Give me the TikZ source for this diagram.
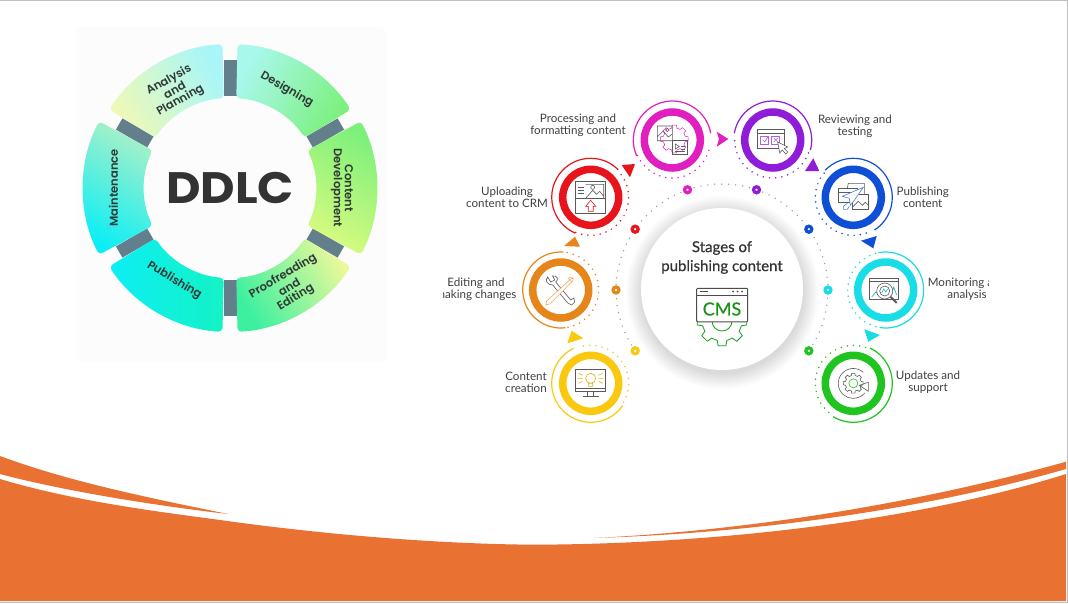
\documentclass[tikz,border=0pt]{standalone}
\usepackage{fontspec}
\usepackage{xcolor}
\usepackage{tikz}
\usetikzlibrary{arrows.meta, positioning}
\newfontfamily\ddlcfont[FakeStretch=1.08]{Poppins}
\newfontfamily\segfont{Poppins SemiBold}
\newfontfamily\stagefont{Lato}
\newfontfamily\hubfont[FakeBold=0.5]{Lato}
\definecolor{slideorange}{HTML}{E97132}
\definecolor{barslate}{HTML}{647F8C}
\definecolor{ddlcink}{HTML}{2F3A36}
\definecolor{iconink}{HTML}{5A5A5A}
\definecolor{segA}{HTML}{A8F6F8}
\definecolor{segB}{HTML}{EEF9B6}
\definecolor{segC}{HTML}{7CF07C}
\definecolor{segD}{HTML}{A8F8EC}
\definecolor{segE}{HTML}{D8FB80}
\definecolor{segF}{HTML}{EAF99A}
\definecolor{segG}{HTML}{3CF0A0}
\definecolor{segH}{HTML}{14F2C4}
\definecolor{segI}{HTML}{0CEEF5}
\definecolor{segJ}{HTML}{A8F0C8}
\definecolor{stagered}{HTML}{E8141C}
\definecolor{stagemagenta}{HTML}{E01FBE}
\definecolor{stagepurple}{HTML}{8E1CD8}
\definecolor{stageblue}{HTML}{0F4FD8}
\definecolor{stagecyan}{HTML}{18DDE6}
\definecolor{stagegreen}{HTML}{1FC41F}
\definecolor{stageorange}{HTML}{E6861A}
\definecolor{stageyellow}{HTML}{FAC80F}
\definecolor{hubshade}{HTML}{DADADA}
\definecolor{hubdots}{HTML}{8A9AA6}
\pgfdeclareradialshading{hubglow}{\pgfpointorigin}{color(0bp)=(hubshade); color(20.8bp)=(hubshade); color(25bp)=(white); color(50bp)=(white)}

\begin{document}
\begin{tikzpicture}[x=1pt, y=-1pt,
      segment/.style={rounded corners=4pt},
      bar/.style={draw=none, fill=barslate, minimum width=36pt, minimum height=13pt, inner sep=0pt},
      seglabel/.style={inner sep=0pt, text=ddlcink, font=\segfont\fontsize{11.5}{12}\selectfont},
      ring/.style={draw, circle, line width=7.5pt, minimum size=56pt, inner sep=0pt},
      thinarc/.style={line width=1.2pt},
      dotarc/.style={line width=1.7pt, line cap=round, dash pattern=on 0pt off 6.2pt},
      hubdot/.style={draw, circle, fill=white, line width=3.2pt, minimum size=6pt, inner sep=0pt},
      lab/.style={align=center, inner sep=0pt, text=black!75,
                  font=\stagefont\fontsize{11.6}{12}\selectfont},
      iconline/.style={draw=iconink, line width=0.6pt},
      pics/gearicon/.style={code={
        \path[pic actions] (-14:80) \foreach \a in {0,45,...,315}{
          -- (\a-14:80) -- (\a-9:100) -- (\a+9:100) -- (\a+14:80)} -- cycle;}}
    ]
      \useasboundingbox (0,0) rectangle (1068,603);
      \fill[white] (0,0) rectangle (1068,603);

      % bottom swoosh
      \fill[slideorange] (0,479) .. controls (80,503) and (170,513) .. (231,521.5)
        .. controls (330,535) and (440,544) .. (534,544.7)
        .. controls (720,544) and (920,520) .. (1066,474) -- (1066,601) -- (0,601) -- cycle;
      \fill[slideorange] (0,456) .. controls (70,482) and (150,498) .. (228,514)
        .. controls (150,505) and (60,490) .. (0,474) -- cycle;
      \fill[slideorange] (594,538) .. controls (760,530) and (930,500) .. (1066,461.7)
        -- (1066,469) .. controls (930,508) and (760,533) .. (594,538) -- cycle;
      \draw[black!25, line width=1pt] (0,0.5) -- (1067.5,0.5) -- (1067.5,602.5) -- (0,602.5);

      % DDLC wheel
      \fill[black!1, rounded corners=6pt] (76,27) rectangle (386,362);
      \begin{scope}[shift={(230,188)}]
        \foreach \a in {-90,-30,30,90,150,210}
          \node[bar, rotate=-\a] at (\a:110) {};
        \shade[segment, top color=segA, bottom color=segB, shading angle=-60]
          (213:144) arc[start angle=213, end angle=267, radius=144]
          -- (266:90) arc[start angle=266, end angle=214, radius=90] -- cycle;
        \shade[segment, top color=segC, bottom color=segD, shading angle=-120]
          (273:144) arc[start angle=273, end angle=327, radius=144]
          -- (326:90) arc[start angle=326, end angle=274, radius=90] -- cycle;
        \shade[segment, top color=segC, bottom color=segE, shading angle=-30]
          (-27:147) arc[start angle=-27, end angle=27, radius=147]
          -- (26:86) arc[start angle=26, end angle=-26, radius=86] -- cycle;
        \shade[segment, top color=segF, bottom color=segG, shading angle=-60]
          (33:144) arc[start angle=33, end angle=87, radius=144]
          -- (86:90) arc[start angle=86, end angle=34, radius=90] -- cycle;
        \shade[segment, top color=segH, bottom color=segI, shading angle=-90]
          (93:144) arc[start angle=93, end angle=147, radius=144]
          -- (146:90) arc[start angle=146, end angle=94, radius=90] -- cycle;
        \shade[segment, top color=segJ, bottom color=segI, shading angle=-30]
          (153:147) arc[start angle=153, end angle=207, radius=147]
          -- (206:86) arc[start angle=206, end angle=154, radius=86] -- cycle;

        \node[seglabel, rotate=29.5] (seganalysis) at (240.5:124) {Analysis};
        \node[seglabel, rotate=29.5] (segand) at (240.5:112.7) {and};
        \node[seglabel, rotate=29.5] (segplanning) at (240.5:100.6) {Planning};
        \node[seglabel, rotate=-30] (segdesigning) at (-60:113.6) {Designing};
        \node[seglabel, rotate=-90] (segcontent) at (0:119) {Content};
        \node[seglabel, rotate=-90] (segdevelopment) at (0:106.7) {Development};
        \node[seglabel, rotate=31] (segproofreading) at (59:103) {Proofreading};
        \node[seglabel, rotate=31] (segandb) at (59:115) {and};
        \node[seglabel, rotate=31] (segediting) at (59:128) {Editing};
        \node[seglabel, rotate=-31] (segpublishing) at (121:108) {Publishing};
        \node[seglabel, rotate=90] (segmaintenance) at (180:116.7) {Maintenance};
      \end{scope}
      \node[font=\ddlcfont\bfseries\fontsize{44}{45}\selectfont, text=black!80] (ddlc) at (230,188) {DDLC};

      % hub in the middle of the stages
      \shade[shading=hubglow] (722,292) circle (97);
      \node[circle, fill=white, minimum size=162pt, inner sep=0pt] (hub) at (722,289) {};
      \coordinate (hubc) at (722,290);
      \draw[hubdots, dotarc, line width=1.5pt, dash pattern=on 0pt off 7pt]
        ([shift={(145:106)}]hubc) arc[start angle=145, end angle=395, radius=106];
      \node[hubdot, draw=stagered] (dotred) at ([shift={(215:106)}]hubc) {};
      \node[hubdot, draw=stagemagenta] (dotmagenta) at ([shift={(251:106)}]hubc) {};
      \node[hubdot, draw=stagepurple] (dotpurple) at ([shift={(289:106)}]hubc) {};
      \node[hubdot, draw=stageblue] (dotblue) at ([shift={(325:106)}]hubc) {};
      \node[hubdot, draw=stagecyan] (dotcyan) at ([shift={(0:106)}]hubc) {};
      \node[hubdot, draw=stagegreen] (dotgreen) at ([shift={(35:106)}]hubc) {};
      \node[hubdot, draw=stageyellow] (dotyellow) at ([shift={(145:106)}]hubc) {};
      \node[hubdot, draw=stageorange] (dotorange) at ([shift={(180:106)}]hubc) {};
      \node[font=\hubfont\fontsize{15}{19}\selectfont, align=center, text=black!80, inner sep=0pt] (hubtitle) at (722,257.5) {Stages of\\publishing content};

      % CMS icon
      \pic[draw=stagegreen!80!black, line width=0.8pt, fill=white, scale=0.25] at (722,321) {gearicon};
      \draw[stagegreen!80!black, line width=0.8pt] (732,321) arc[start angle=0, end angle=180, radius=10];
      \node[draw=black!70, fill=white, line width=1pt, rounded corners=1pt, minimum width=51pt, minimum height=33.5pt, inner sep=0pt] (cmswin) at (722.2,305) {};
      \draw[black!70, line width=0.8pt] (696.7,295) -- (747.7,295);
      \draw[black!70, line width=1pt] (700,291.5) -- (708,291.5);
      \fill[black!70] (733,291.5) circle (1) (737.5,291.5) circle (1) (742,291.5) circle (1);
      \node[font=\hubfont\fontsize{18}{18}\selectfont, text=stagegreen!75!black, inner sep=0pt] (cms) at (722,309) {CMS};

      % stage rings
      \node[ring, draw=stagered] (upload) at (590.7,197.3) {};
      \draw[thinarc, stagered] ([shift={(-45:39)}]upload.center) arc[start angle=-45, end angle=-247, radius=39];
      \draw[dotarc, stagered] ([shift={(113:38)}]upload.center) arc[start angle=113, end angle=-45, radius=38];
      \node[ring, draw=stagemagenta] (process) at (672.3,140) {};
      \draw[thinarc, stagemagenta] ([shift={(-10:39)}]process.center) arc[start angle=-10, end angle=-204, radius=39];
      \draw[dotarc, stagemagenta] ([shift={(156:38)}]process.center) arc[start angle=156, end angle=10, radius=38];
      \node[ring, draw=stagepurple] (review) at (772.7,140) {};
      \draw[thinarc, stagepurple] ([shift={(-170:39)}]review.center) arc[start angle=-170, end angle=15, radius=39];
      \draw[dotarc, stagepurple] ([shift={(20:38)}]review.center) arc[start angle=20, end angle=185, radius=38];
      \node[ring, draw=stageblue] (publish) at (853.3,197.3) {};
      \draw[thinarc, stageblue] ([shift={(-136:39)}]publish.center) arc[start angle=-136, end angle=57, radius=39];
      \draw[dotarc, stageblue] ([shift={(70:38)}]publish.center) arc[start angle=70, end angle=223, radius=38];
      \node[ring, draw=stagecyan] (monitor) at (885.7,290) {};
      \draw[thinarc, stagecyan] ([shift={(-101:38)}]monitor.center) arc[start angle=-101, end angle=99, radius=38];
      \draw[dotarc, stagecyan] ([shift={(105:38)}]monitor.center) arc[start angle=105, end angle=255, radius=38];
      \node[ring, draw=stagegreen] (update) at (853.3,383.3) {};
      \draw[thinarc, stagegreen] ([shift={(-65:39)}]update.center) arc[start angle=-65, end angle=121, radius=39];
      \draw[dotarc, stagegreen] ([shift={(130:38)}]update.center) arc[start angle=130, end angle=290, radius=38];
      \node[ring, draw=stageorange] (edit) at (560.7,290) {};
      \draw[thinarc, stageorange] ([shift={(-86:38)}]edit.center) arc[start angle=-86, end angle=-277, radius=38];
      \draw[dotarc, stageorange] ([shift={(-80:38)}]edit.center) arc[start angle=-80, end angle=80, radius=38];
      \node[ring, draw=stageyellow] (create) at (590.7,383.3) {};
      \draw[thinarc, stageyellow] ([shift={(-116:39)}]create.center) arc[start angle=-116, end angle=-325, radius=39];
      \draw[dotarc, stageyellow] ([shift={(30:38)}]create.center) arc[start angle=30, end angle=-110, radius=38];

      % triangles between the rings
      \fill[stagered] (621.7,165) -- (635,164) -- (630,177.3) -- cycle;
      \fill[stagemagenta] (716.7,131.7) -- (728.3,139) -- (716.7,146.7) -- (719,139) -- cycle;
      \fill[stagepurple] (813.3,158.3) -- (819.3,171) -- (805,171) -- cycle;
      \fill[stageblue] (861,240.7) -- (876.7,236) -- (873.3,248.3) -- cycle;
      \fill[stagecyan] (864.3,329.3) -- (880,335) -- (868.3,341.7) -- cycle;
      \fill[stageorange] (564,246) -- (580,246.7) -- (575,236.7) -- cycle;
      \fill[stageyellow] (567.3,343.3) -- (583.3,338.3) -- (571.7,330.7) -- cycle;

      % icons
      \begin{scope}[shift={(upload.center)}]
        \draw[iconline] (-15,-15.7) rectangle (15,16) (-15,1) -- (15,1);
        \draw[iconline] (-13,-10) -- (-7,-10) (-13,-7) -- (-7,-7) (-13,-4) -- (-7,-4);
        \draw[iconline] (-5,-13) -- (13,-13) -- (13,1) (-5,1) -- (2,-7) -- (6,-3) -- (9,-6) -- (13,-1);
        \draw[iconline] (2,-10) circle (2);
        \draw[stagered, line width=0.6pt] (0,3) -- (-5,9) -- (-2.5,9) -- (-2.5,14) -- (2.5,14) -- (2.5,9) -- (5,9) -- cycle;
      \end{scope}
      \begin{scope}[shift={(process.center)}]
        \pic[draw=stagemagenta, line width=0.5pt, scale=0.14] at (2,-1) {gearicon};
        \draw[iconline] (-15,-14) rectangle (0,0.7) (-15,-3) -- (-9,-9) -- (-4,-3) -- (0,-6);
        \draw[iconline] (-5,-10) circle (1.7);
        \draw[iconline] (0,0.7) rectangle (15,14) (9,6) -- (13,6) (9,9) -- (13,9) (3,11.5) -- (13,11.5);
        \draw[iconline] (3,4) -- (3,9) -- (7,6.5) -- cycle;
      \end{scope}
      \begin{scope}[shift={(review.center)}]
        \draw[iconline] (-15,-10.5) rectangle (12,8.5) (-15,-7) -- (12,-7);
        \draw[stagepurple!70, line width=0.6pt] (-12,-4) rectangle (-4,4) (-1,-4) rectangle (7,4);
        \draw[stagepurple!70, line width=0.6pt] (-10,0) -- (-8,2) -- (-5,-3) (1,-2) -- (5,2) (5,-2) -- (1,2);
        \draw[iconline, fill=white] (5,2) -- (7,13) -- (9.5,10) -- (13,14) -- (15,12) -- (11.5,8.5) -- (15,7) -- cycle;
      \end{scope}
      \begin{scope}[shift={(publish.center)}]
        \draw[iconline] (-6,-9) -- (-5,-14) -- (11,-14) -- (11,-3);
        \draw[iconline] (-15,-9) rectangle (4,5) (-15,-5) -- (4,-5);
        \draw[iconline, fill=white] (-1,-3) rectangle (15,12);
        \draw[iconline] (-1,10) -- (5,4) -- (9,8) -- (12,5) -- (15,8);
        \draw[stageblue!75, line width=0.6pt, fill=white] (10,-10) -- (-11,-1) -- (-4,1) -- (-3,8) -- (1,3) -- cycle;
        \draw[stageblue!75, line width=0.6pt] (-6,6) -- (-10,9) -- (-10,12) -- (-6,12) -- (-4,9);
      \end{scope}
      \begin{scope}[shift={(monitor.center)}]
        \draw[iconline] (-16,-12) rectangle (13,9) (-16,-9) -- (13,-9);
        \draw[stagecyan!80!black, line width=0.6pt] (-14,7) -- (-10,2) -- (-7,5) (6,5) -- (8,-3) -- (11,5);
        \draw[iconline, fill=white] (-1,1) circle (8);
        \draw[iconline] (-1,1) circle (5);
        \draw[stagecyan!80!black, line width=0.6pt] (-4,3) -- (-2,-1) -- (0,2) -- (2,-1);
        \draw[iconink, line width=2pt] (5,7) -- (11,13);
      \end{scope}
      \begin{scope}[shift={(update.center)}]
        \pic[draw=iconink, line width=0.6pt, scale=0.1] at (0,0) {gearicon};
        \draw[stagegreen, line width=0.6pt] (0,0) circle (4.5);
        \draw[iconline] (10,-11) arc[start angle=-48, end angle=-270, radius=15] (0,15) arc[start angle=90, end angle=40, radius=15];
        \draw[iconline] (6,2) -- (15,-1) -- (15,8) -- cycle;
      \end{scope}
      \begin{scope}[shift={(edit.center)}]
        \draw[iconline] (-5,-8) -- (10,10) -- (13,8) -- (14,12) -- (11,15) -- (7,13) -- (-8,-5);
        \draw[iconline] (-8,-5) .. controls (-14,-5) and (-16,-10) .. (-13,-13) -- (-10,-8) -- (-6,-10) -- (-8,-14) .. controls (-3,-15) and (-2,-10) .. (-5,-8);
        \draw[stageorange!70, line width=0.6pt, fill=white] (10,-11) -- (12.5,-12) -- (12,-9) -- (-11,14) -- (-15,15) -- (-14,11) -- cycle;
        \draw[stageorange!70, line width=0.6pt] (7,-12) -- (11,-8) (8,-12.5) -- (12.5,-12);
      \end{scope}
      \begin{scope}[shift={(create.center)}]
        \draw[iconline] (-15,-14) rectangle (15,8) (-15,5) -- (15,5) (-3,8) -- (-3,13) (3,8) -- (3,13) (-8,13) -- (8,13);
        \draw[stageyellow!90!black, line width=0.6pt] (0,-5) circle (5) (-2,0) rectangle (2,3);
        \draw[stageyellow!90!black, line width=0.6pt] (-12,-10) -- (-8,-8) (-13,-5) -- (-8,-5) (-12,0) -- (-8,-2) (12,-10) -- (8,-8) (13,-5) -- (8,-5) (12,0) -- (8,-2);
      \end{scope}

      % labels
      \begin{scope}
        \clip (443,0) rectangle (988,603);
        \node[lab] (labprocess) at (578,125) {Processing and\\formatting content};
        \node[lab] (labupload) at (507,197) {Uploading\\content to CRM};
        \node[lab] (labreview) at (855,126) {Reviewing and\\testing};
        \node[lab] (labpublish) at (922.7,197) {Publishing\\content};
        \node[lab] (labmonitor) at (967,289) {Monitoring and\\analysis};
        \node[lab] (labupdate) at (928,382) {Updates and\\support};
        \node[lab] (labcreate) at (526,382.5) {Content\\creation};
        \node[lab] (labedit) at (476,289.5) {Editing and\\making changes};
      \end{scope}
    \end{tikzpicture}
\end{document}
